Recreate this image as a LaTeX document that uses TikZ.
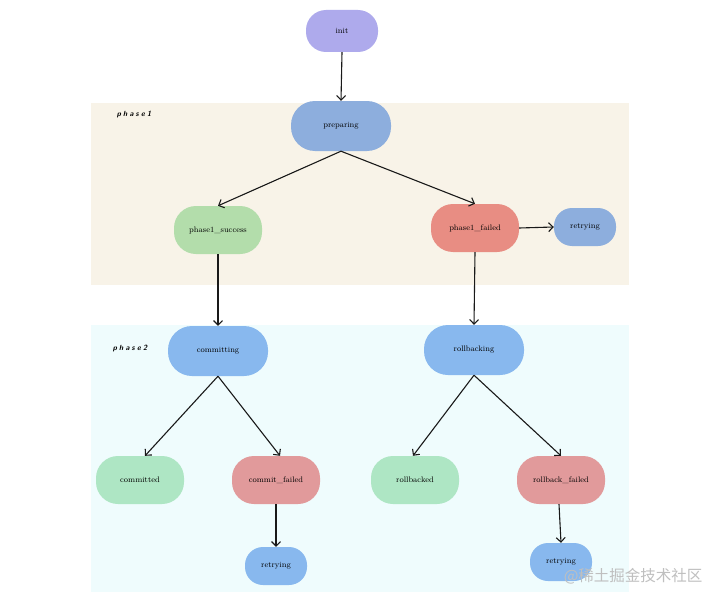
\documentclass[tikz,border=0pt]{standalone}
\usepackage{fontspec}
\newfontfamily\cjk{Noto Sans CJK SC}
\usetikzlibrary{arrows.meta}
\definecolor{cinit}{HTML}{AEAAEC}
\definecolor{cprep}{HTML}{8DAEDD}
\definecolor{cgreen1}{HTML}{B3DDAB}
\definecolor{cred1}{HTML}{E88D83}
\definecolor{cblue}{HTML}{88B8EE}
\definecolor{cgreen}{HTML}{AEE6C4}
\definecolor{cred}{HTML}{E19A9B}
\definecolor{bgone}{HTML}{F8F3E8}
\definecolor{bgtwo}{HTML}{EFFCFD}
\newcommand{\spc}{\hspace{2.2pt}}
\tikzset{
  st/.style={rectangle, draw=none, rounded corners=22pt, minimum width=88pt, minimum height=48pt,
    inner sep=1pt, font=\fontsize{8}{9}\selectfont, text=black},
  big/.style={st, minimum width=100pt, minimum height=50pt, rounded corners=24pt},
  small/.style={st, minimum width=62pt, minimum height=38pt, rounded corners=18pt},
  arr/.style={-{Straight Barb[length=4.5pt,width=9pt]}, line width=1.1pt, black!90},
  phaselbl/.style={font=\sffamily\bfseries\itshape\fontsize{7.5}{8}\selectfont}
}
\begin{document}
\begin{tikzpicture}[x=1pt,y=-1pt]
\useasboundingbox (0,0) rectangle (720,602);
\fill[white] (0,0) rectangle (720,602);
\node[fill=bgone, draw=none, minimum width=538pt, minimum height=182pt, anchor=north west, inner sep=0pt] (p1) at (91,103) {};
\node[fill=bgtwo, draw=none, minimum width=538pt, minimum height=267pt, anchor=north west, inner sep=0pt] (p2) at (91,325) {};
\node[phaselbl] (l1) at (134,115) {p\spc h\spc a\spc s\spc e\spc 1};
\node[phaselbl] (l2) at (130,349) {p\spc h\spc a\spc s\spc e\spc 2};

\node[st, fill=cinit, minimum width=72pt, minimum height=42pt, rounded corners=20pt] (init) at (342,31) {init};
\node[big, fill=cprep] (prep) at (341,126) {preparing};
\node[st, fill=cgreen1] (ps) at (218,230) {phase1\_success};
\node[st, fill=cred1] (pf) at (475,228) {phase1\_failed};
\node[small, fill=cprep] (r1) at (585,227) {retrying};

\node[big, fill=cblue] (com) at (218,351) {committing};
\node[big, fill=cblue] (rb) at (474,350) {rollbacking};
\node[st, fill=cgreen] (comd) at (140,480) {committed};
\node[st, fill=cred] (cf) at (276,480) {commit\_failed};
\node[small, fill=cblue] (r2) at (276,566) {retrying};
\node[st, fill=cgreen] (rbd) at (415,480) {rollbacked};
\node[st, fill=cred] (rf) at (561,480) {rollback\_failed};
\node[small, fill=cblue] (r3) at (561,562) {retrying};

\draw[arr] (init.south) -- (prep.north);
\draw[arr] (prep.south) -- (ps.north);
\draw[arr] (prep.south) -- (pf.north);
\draw[arr] (pf.east) -- (r1.west);
\draw[arr] (ps.south) -- (com.north);
\draw[arr] (pf.south) -- (rb.north);
\draw[arr] (com.south) -- ([xshift=5pt]comd.north);
\draw[arr] (com.south) -- ([xshift=4pt]cf.north);
\draw[arr] (cf.south) -- (r2.north);
\draw[arr] (rb.south) -- ([xshift=-2pt]rbd.north);
\draw[arr] (rb.south) -- (rf.north);
\draw[arr] ([xshift=-2pt]rf.south) -- (r3.north);

\node[font=\cjk\fontsize{15.5}{17}\selectfont, text=black!25, anchor=east] (wm) at (706,576) {@稀土掘金技术社区};
\end{tikzpicture}
\end{document}
